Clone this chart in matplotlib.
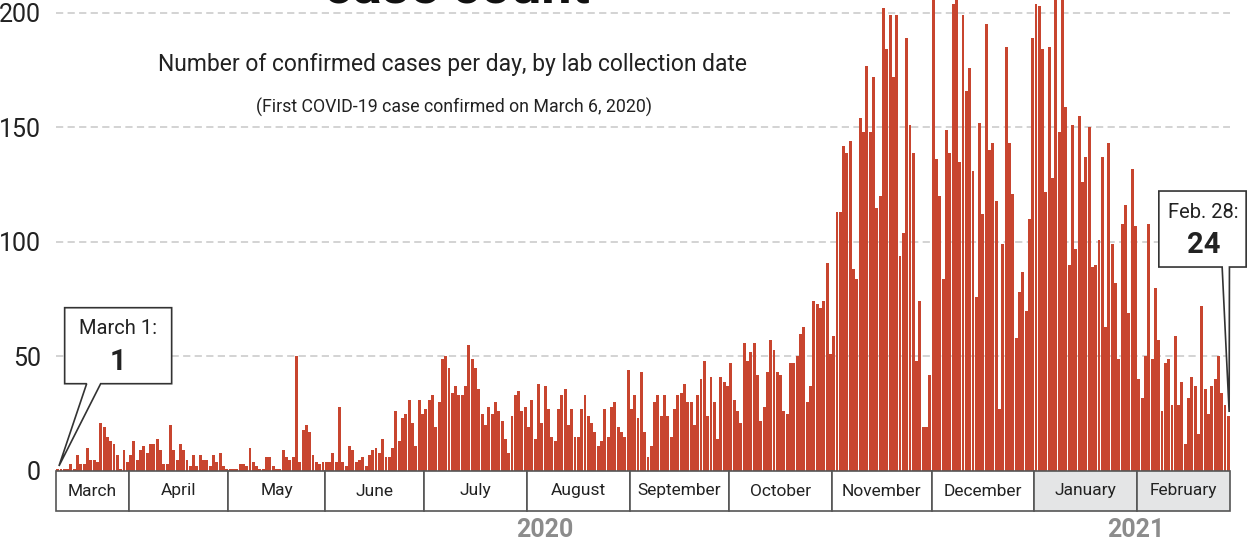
import matplotlib.pyplot as plt
from matplotlib.patches import Polygon, Rectangle
from matplotlib.transforms import ScaledTranslation, blended_transform_factory

# daily confirmed cases, one list per month (as read from the graphic)
march = [1, 1, 1, 1, 3, 1, 7, 3, 3, 10, 5, 5, 4, 21, 19, 15, 13, 12, 7, 1, 9, 4]
april = [7, 13, 5, 9, 11, 8, 12, 12, 14, 9, 3, 3, 20, 9, 5, 12, 9, 5, 2, 7,
         2, 7, 5, 5, 2, 7, 4, 8, 2, 1]
may = [1, 1, 1, 3, 3, 2, 10, 4, 2, 1, 1, 6, 6, 2, 1, 1, 9, 6, 5, 6,
       50, 4, 18, 20, 17, 7, 4, 3, 4]
june = [4, 4, 8, 4, 28, 4, 2, 11, 9, 4, 5, 6, 2, 7, 9, 10, 8, 14, 6, 6,
        10, 26, 13, 23, 25, 31, 21, 11, 31, 25]
july = [27, 31, 33, 19, 30, 49, 50, 45, 34, 37, 33, 33, 37, 55, 49, 45,
        36, 25, 20, 28, 25, 30, 26, 22, 14, 8, 24, 33, 35, 26, 28]
august = [19, 31, 14, 38, 21, 37, 27, 15, 13, 27, 33, 36, 20, 27, 15, 15,
          27, 33, 24, 21, 17, 11, 13, 27, 15, 28, 30, 19, 17, 15, 44]
september = [27, 33, 23, 43, 17, 6, 11, 30, 33, 24, 33, 24, 15, 27, 33,
             34, 38, 30, 30, 20, 33, 40, 48, 24, 41, 30, 14, 41, 39, 37]
october = [47, 31, 26, 21, 56, 48, 52, 56, 42, 22, 28, 43, 57, 53, 43, 42,
           26, 25, 47, 47, 50, 60, 63, 30, 37, 74, 73, 71, 74, 91, 51]
november = [59, 113, 113, 142, 139, 144, 88, 84, 154, 148, 177, 148, 172,
            115, 120, 202, 184, 199, 172, 199, 94, 104, 189, 151, 139, 48,
            74, 19, 19, 42]
december = [215, 136, 120, 84, 149, 139, 204, 212, 135, 199, 166, 176, 131,
            76, 152, 112, 195, 140, 143, 118, 27, 99, 185, 143, 121, 58, 78,
            87, 70, 110, 189]
january = [204, 203, 184, 122, 185, 128, 215, 148, 212, 159, 90, 151, 97,
           155, 126, 137, 150, 89, 90, 101, 137, 63, 143, 99, 82, 49, 108,
           116, 69, 132, 107]
february = [40, 32, 50, 108, 49, 80, 57, 26, 47, 49, 29, 59, 29, 39, 12, 32,
            41, 37, 16, 72, 36, 25, 37, 40, 50, 34, 29, 24]

months = [march, april, may, june, july, august, september, october,
          november, december, january, february]
month_names = ["March", "April", "May", "June", "July", "August", "September",
               "October", "November", "December", "January", "February"]
yticks = [0, 50, 100, 150, 200]

cases = [v for m in months for v in m]
days = list(range(len(cases)))

BAR = "#c8452f"
plt.rcParams["font.family"] = ["Roboto", "DejaVu Sans"]

fig = plt.figure(figsize=(12.48, 5.43), dpi=100)
ax = fig.add_axes([56 / 1248, 72 / 543, 1174 / 1248, 471 / 543])

for t in yticks[1:]:
    ax.axhline(t, color="#d0d0d0", lw=1.3, dashes=(4, 2.4), zorder=0)

ax.bar(days, cases, width=0.88, color=BAR, zorder=2)

ax.set_xlim(-0.5, len(cases) - 0.5)
ax.set_ylim(0, 205.6)
ax.set_yticks(yticks)
ax.set_yticklabels([str(t) for t in yticks], fontsize=18, color="#222222")
ax.tick_params(axis="y", length=0, pad=11)
ax.set_xticks([])
for s in ax.spines.values():
    s.set_visible(False)

# month boxes under the bars
bt = blended_transform_factory(ax.transData, ax.transAxes)
hbox = 40 / 471
start = -0.5
for name, m in zip(month_names, months):
    end = start + len(m)
    fc = "#e4e5e6" if name in ("January", "February") else "white"
    ax.add_patch(Rectangle((start, -hbox), len(m), hbox, transform=bt,
                           facecolor=fc, edgecolor="#555555", lw=1.2,
                           clip_on=False, zorder=3))
    ax.text((start + end) / 2, -hbox / 2, name, transform=bt, ha="center",
            va="center", fontsize=12.5, color="#222222")
    start = end

# year labels
for label, xpos in (("2020", 147), ("2021", 325)):
    ax.text(xpos, -59 / 471, label, transform=bt, ha="center", va="center",
            fontsize=18, fontweight="bold", color="#8c8c8c")

# titles
fig.text(457 / 1248, 1 - 3 / 543, "case count", ha="center",
         va="baseline", fontsize=39, fontweight="bold", color="#111111")
fig.text(453 / 1248, 1 - 64 / 543,
         "Number of confirmed cases per day, by lab collection date",
         ha="center", va="center", fontsize=16.5, color="#222222")
fig.text(454 / 1248, 1 - 107 / 543,
         "(First COVID-19 case confirmed on March 6, 2020)",
         ha="center", va="center", fontsize=12.8, color="#222222")


def callout(x, y, box, tail, tip, label, value, tx):
    # box/tail/tip given as pixel offsets from the data point (x, y)
    tr = fig.dpi_scale_trans + ScaledTranslation(x, y, ax.transData)
    x0, x1, y0, y1 = box
    pts = [(x0, y1), (x1, y1), (x1, y0), (tail[1], y0), tip,
           (tail[0], y0), (x0, y0)]
    pts = [(px / 100, py / 100) for px, py in pts]
    ax.add_patch(Polygon(pts, closed=True, transform=tr, facecolor="white",
                         edgecolor="#333333", lw=1.2, clip_on=False,
                         zorder=5))
    ax.text(tx / 100, (y1 - 21) / 100, label, transform=tr, ha="center",
            va="center", fontsize=14.5, color="#222222", zorder=6)
    ax.text(tx / 100, (y0 + 22) / 100, value, transform=tr, ha="center",
            va="center", fontsize=21, fontweight="bold", color="#222222",
            zorder=6)


callout(days[0], cases[0], (7, 114, 85, 161), (29, 43), (1.3, 2.7),
        "March 1:", str(cases[0]), 60)
callout(days[-1], cases[-1], (-69.5, 17.8, 149, 225), (-6.2, 1.1), (0.8, 4),
        "Feb. 28:", str(cases[-1]), -25)

fig.savefig("out.png", dpi=100)
